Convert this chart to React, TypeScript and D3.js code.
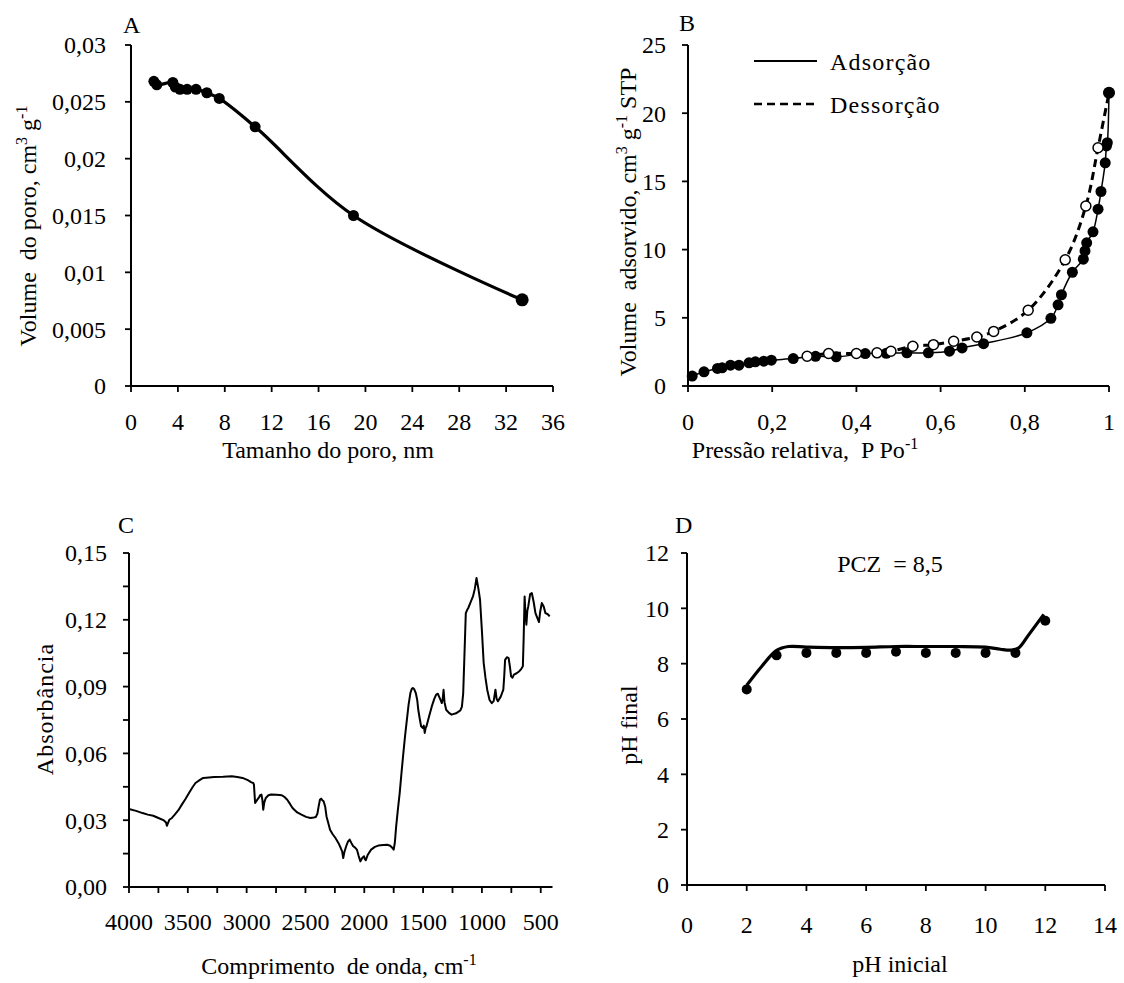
import React, { useEffect } from 'react';
import * as d3 from 'd3';

// ---------- Panel A: pore volume vs pore size ----------
const poreSize = [1.95, 2.2, 3.57, 3.78, 4.18, 4.79, 5.55, 6.47, 7.53, 10.59, 18.98, 33.37];
const poreVolume = [0.0268, 0.0265, 0.0267, 0.0263, 0.0261, 0.0261, 0.0261, 0.0258, 0.0253, 0.0228, 0.015, 0.00758];
const aXTicks = [0, 4, 8, 12, 16, 20, 24, 28, 32, 36];
const aYTicks = [0, 0.005, 0.01, 0.015, 0.02, 0.025, 0.03];
const aYLabels = ['0', '0,005', '0,01', '0,015', '0,02', '0,025', '0,03'];

// ---------- Panel B: N2 isotherm ----------
const adsP = [0.01, 0.038, 0.07, 0.081, 0.101, 0.121, 0.145, 0.16, 0.18, 0.198, 0.25, 0.303, 0.352, 0.421, 0.471, 0.52, 0.571, 0.621, 0.651, 0.702, 0.805, 0.862, 0.879, 0.887, 0.913, 0.939, 0.943, 0.947, 0.962, 0.974, 0.981, 0.991, 0.994, 0.996, 1.0];
const adsV = [0.73, 1.04, 1.29, 1.33, 1.53, 1.53, 1.7, 1.77, 1.82, 1.89, 2.01, 2.18, 2.14, 2.38, 2.4, 2.43, 2.43, 2.55, 2.79, 3.1, 3.9, 4.96, 5.95, 6.69, 8.34, 9.3, 9.9, 10.5, 11.3, 12.96, 14.26, 16.36, 17.6, 17.84, 21.5];
const desP = [0.283, 0.334, 0.4, 0.449, 0.482, 0.534, 0.583, 0.631, 0.686, 0.726, 0.808, 0.896, 0.945, 0.974, 1.0];
const desV = [2.18, 2.38, 2.38, 2.43, 2.55, 2.91, 3.03, 3.28, 3.59, 4.0, 5.55, 9.25, 13.2, 17.47, 21.5];
const bXTicks = [0, 0.2, 0.4, 0.6, 0.8, 1];
const bXLabels = ['0', '0,2', '0,4', '0,6', '0,8', '1'];
const bYTicks = [0, 5, 10, 15, 20, 25];

// ---------- Panel C: FTIR spectrum ----------
const waveNumber = [4000, 3940, 3885, 3840, 3794, 3750, 3703, 3685, 3678, 3668, 3657, 3635, 3611, 3580, 3551, 3520, 3490, 3460, 3435, 3400, 3369, 3320, 3277, 3200, 3126, 3080, 3035, 2990, 2959, 2944, 2938, 2928, 2912, 2898, 2885, 2874, 2866, 2859, 2850, 2837, 2815, 2792, 2745, 2701, 2680, 2655, 2630, 2610, 2570, 2534, 2495, 2458, 2430, 2412, 2398, 2388, 2377, 2367, 2357, 2346, 2332, 2321, 2305, 2291, 2270, 2245, 2220, 2200, 2188, 2179, 2170, 2154, 2138, 2124, 2110, 2094, 2080, 2063, 2048, 2033, 2018, 2002, 1995, 1987, 1970, 1942, 1910, 1881, 1840, 1805, 1780, 1760, 1750, 1740, 1729, 1714, 1699, 1684, 1668, 1653, 1638, 1623, 1608, 1596, 1587, 1575, 1562, 1550, 1541, 1530, 1517, 1502, 1494, 1486, 1478, 1471, 1450, 1426, 1405, 1389, 1375, 1365, 1352, 1341, 1333, 1326, 1318, 1304, 1280, 1258, 1220, 1183, 1170, 1159, 1148, 1137, 1125, 1116, 1095, 1076, 1060, 1046, 1030, 1016, 1000, 985, 970, 955, 935, 916, 900, 885, 875, 864, 840, 818, 810, 803, 788, 773, 762, 752, 740, 728, 705, 682, 665, 652, 645, 637, 630, 622, 614, 606, 590, 576, 560, 545, 530, 515, 505, 491, 475, 460, 440, 424];
const absorbance = [0.035, 0.0342, 0.0332, 0.0325, 0.032, 0.031, 0.0299, 0.029, 0.0275, 0.0288, 0.0302, 0.031, 0.0325, 0.0345, 0.037, 0.0395, 0.0422, 0.0448, 0.0467, 0.048, 0.049, 0.0492, 0.0494, 0.0495, 0.0497, 0.0494, 0.049, 0.048, 0.047, 0.0467, 0.046, 0.0377, 0.039, 0.04, 0.0412, 0.0415, 0.039, 0.0347, 0.038, 0.04, 0.0412, 0.0415, 0.0414, 0.0412, 0.0405, 0.0392, 0.0372, 0.0355, 0.0335, 0.0325, 0.0315, 0.031, 0.0312, 0.0314, 0.033, 0.0362, 0.0392, 0.0397, 0.039, 0.0385, 0.036, 0.0317, 0.0285, 0.0257, 0.0238, 0.022, 0.0198, 0.0175, 0.016, 0.013, 0.0155, 0.0183, 0.0205, 0.0213, 0.0198, 0.0183, 0.0178, 0.0168, 0.014, 0.0115, 0.013, 0.0138, 0.0125, 0.012, 0.0145, 0.0168, 0.018, 0.0186, 0.0189, 0.019, 0.0185, 0.0175, 0.0168, 0.02, 0.0272, 0.035, 0.0422, 0.051, 0.06, 0.068, 0.0751, 0.082, 0.0871, 0.089, 0.0894, 0.0888, 0.0871, 0.084, 0.0796, 0.076, 0.0722, 0.0714, 0.0725, 0.0692, 0.0715, 0.0722, 0.0765, 0.0811, 0.0845, 0.0864, 0.0868, 0.0856, 0.084, 0.0826, 0.0845, 0.0886, 0.083, 0.0796, 0.0782, 0.0774, 0.078, 0.0793, 0.081, 0.0871, 0.105, 0.123, 0.1245, 0.1253, 0.128, 0.1305, 0.134, 0.1388, 0.134, 0.129, 0.115, 0.1006, 0.094, 0.0886, 0.084, 0.0826, 0.0835, 0.0886, 0.0845, 0.0834, 0.0855, 0.0886, 0.095, 0.102, 0.1032, 0.1028, 0.099, 0.0946, 0.094, 0.0954, 0.096, 0.0969, 0.098, 0.0991, 0.112, 0.1305, 0.123, 0.1178, 0.124, 0.126, 0.1315, 0.132, 0.128, 0.123, 0.121, 0.119, 0.1235, 0.1275, 0.126, 0.123, 0.1225, 0.1215];
const cXTicks = [4000, 3500, 3000, 2500, 2000, 1500, 1000, 500];
const cXMinor = [3750, 3250, 2750, 2250, 1750, 1250, 750];
const cYTicks = [0, 0.03, 0.06, 0.09, 0.12, 0.15];
const cYMinor = [0.015, 0.045, 0.075, 0.105, 0.135];
const cYLabels = ['0,00', '0,03', '0,06', '0,09', '0,12', '0,15'];

// ---------- Panel D: point of zero charge ----------
const pHInitial = [2, 3, 4, 5, 6, 7, 8, 9, 10, 11, 12];
const pHFinal = [7.07, 8.3, 8.39, 8.39, 8.39, 8.43, 8.39, 8.39, 8.39, 8.39, 9.55];
const fitX = [2, 2.5, 3, 3.4, 4, 5, 6, 7, 8, 9, 10, 10.5, 10.85, 11.1, 11.45, 11.95];
const fitY = [7.22, 7.9, 8.48, 8.62, 8.6, 8.58, 8.59, 8.62, 8.62, 8.62, 8.6, 8.52, 8.49, 8.56, 9.05, 9.78];
const dXTicks = [0, 2, 4, 6, 8, 10, 12, 14];
const dYTicks = [0, 2, 4, 6, 8, 10, 12];

const FONT = '"Liberation Serif", "Times New Roman", "DejaVu Serif", serif';
const FS = 24;
const TICK = 6;
const TS: React.CSSProperties = { fontFamily: FONT, fontSize: FS };

type Lin = d3.ScaleLinear<number, number>;

function Axes(props: {
  x: Lin; y: Lin; xTicks: number[]; xLabels: string[]; xMinor?: number[];
  yTicks: number[]; yLabels: string[]; yMinor?: number[];
  yLabelGap: number; xLabelY: number;
}) {
  const { x, y, xTicks, xLabels, xMinor = [], yTicks, yLabels, yMinor = [], yLabelGap, xLabelY } = props;
  const [x0, x1] = x.range();
  const [y0, y1] = y.range();
  const ax = Math.min(x0, x1);
  const ay = Math.max(y0, y1);
  return (
    <g>
      <line x1={ax} x2={ax} y1={ay} y2={Math.min(y0, y1)} stroke="#000" strokeWidth={2} />
      <line x1={ax} x2={Math.max(x0, x1)} y1={ay} y2={ay} stroke="#000" strokeWidth={2} />
      {yTicks.concat(yMinor).map((t, i) => (
        <line key={'yt' + i} x1={ax - TICK} x2={ax} y1={y(t)} y2={y(t)} stroke="#000" strokeWidth={1.8} />
      ))}
      {xTicks.concat(xMinor).map((t, i) => (
        <line key={'xt' + i} x1={x(t)} x2={x(t)} y1={ay} y2={ay + TICK} stroke="#000" strokeWidth={1.8} />
      ))}
      {yTicks.map((t, i) => (
        <text key={'yl' + i} x={ax - yLabelGap} y={y(t)} dy="0.35em" textAnchor="end" style={TS}>{yLabels[i]}</text>
      ))}
      {xTicks.map((t, i) => (
        <text key={'xl' + i} x={x(t)} y={xLabelY} textAnchor="middle" style={TS}>{xLabels[i]}</text>
      ))}
    </g>
  );
}

function Sup({ children }: { children: React.ReactNode }) {
  return <tspan style={{ fontSize: 16 }} dy={-9}>{children}</tspan>;
}

export default function App() {
  useEffect(() => { document.body.style.margin = '0'; }, []);

  const xA = d3.scaleLinear().domain([0, 36]).range([131, 553]);
  const yA = d3.scaleLinear().domain([0, 0.03]).range([386, 45]);
  const xB = d3.scaleLinear().domain([0, 1]).range([688, 1109]);
  const yB = d3.scaleLinear().domain([0, 25]).range([386, 45]);
  const xC = d3.scaleLinear().domain([4000, 400]).range([129, 552.5]);
  const yC = d3.scaleLinear().domain([0, 0.15]).range([887, 553]);
  const xD = d3.scaleLinear().domain([0, 14]).range([687, 1105]);
  const yD = d3.scaleLinear().domain([0, 12]).range([885, 553]);

  const aPts: [number, number][] = poreSize.map((v, i) => [xA(v), yA(poreVolume[i])]);
  const adsPts: [number, number][] = adsP.map((v, i) => [xB(v), yB(adsV[i])]);
  const desPts: [number, number][] = desP.map((v, i) => [xB(v), yB(desV[i])]);
  const cPts: [number, number][] = waveNumber.map((v, i) => [xC(v), yC(absorbance[i])]);
  const dPts: [number, number][] = pHInitial.map((v, i) => [xD(v), yD(pHFinal[i])]);
  const fitPts: [number, number][] = fitX.map((v, i) => [xD(v), yD(fitY[i])]);

  const smooth = d3.line().curve(d3.curveCatmullRom.alpha(0.5));
  const straight = d3.line();

  return (
    <svg width={1124} height={983} style={{ position: 'absolute', left: 0, top: 0, background: '#fff', fontFamily: FONT }}>
      <rect width={1124} height={983} fill="#fff" />

      {/* ===== Panel A ===== */}
      <text x={123} y={33} style={TS}>A</text>
      <Axes x={xA} y={yA} xTicks={aXTicks} xLabels={aXTicks.map(String)}
        yTicks={aYTicks} yLabels={aYLabels} yLabelGap={25} xLabelY={430} />
      <path d={smooth(aPts) || ''} fill="none" stroke="#000" strokeWidth={3.2} />
      {aPts.map((p, i) => (
        <circle key={'a' + i} cx={p[0]} cy={p[1]} r={i === aPts.length - 1 ? 6.5 : 5.5} fill="#000" />
      ))}
      <text x={328} y={458} textAnchor="middle" style={TS}>Tamanho do poro, nm</text>
      <text transform="translate(36,226) rotate(-90)" textAnchor="middle" style={{ ...TS, whiteSpace: 'pre' }}>
        Volume  do poro, cm<Sup>3</Sup><tspan dy={9}> g</tspan><Sup>-1</Sup>
      </text>

      {/* ===== Panel B ===== */}
      <text x={679} y={31} style={TS}>B</text>
      <Axes x={xB} y={yB} xTicks={bXTicks} xLabels={bXLabels}
        yTicks={bYTicks} yLabels={bYTicks.map(String)} yLabelGap={22} xLabelY={430} />
      <path d={smooth(desPts) || ''} fill="none" stroke="#000" strokeWidth={3} strokeDasharray="8 5" />
      <path d={smooth(adsPts) || ''} fill="none" stroke="#000" strokeWidth={1.5} />
      {adsPts.map((p, i) => (
        <circle key={'ad' + i} cx={p[0]} cy={p[1]} r={5.5} fill="#000" />
      ))}
      {desPts.slice(0, -1).map((p, i) => (
        <circle key={'de' + i} cx={p[0]} cy={p[1]} r={5} fill="#fff" stroke="#000" strokeWidth={1.5} />
      ))}
      <circle cx={desPts[desPts.length - 1][0]} cy={desPts[desPts.length - 1][1]} r={6} fill="#000" />
      <line x1={754} x2={817} y1={61} y2={61} stroke="#000" strokeWidth={2} />
      <text x={830} y={70} style={{ ...TS, letterSpacing: 1.2 }}>Adsorção</text>
      <line x1={754} x2={817} y1={104} y2={104} stroke="#000" strokeWidth={2.5} strokeDasharray="8 5" />
      <text x={830} y={113} style={{ ...TS, letterSpacing: 1.2 }}>Dessorção</text>
      <text x={805} y={458} textAnchor="middle" style={{ ...TS, whiteSpace: 'pre' }}>
        Pressão relativa,  P Po<Sup>-1</Sup>
      </text>
      <text transform="translate(636,222) rotate(-90)" textAnchor="middle" style={{ ...TS, whiteSpace: 'pre' }}>
        Volume  adsorvido, cm<Sup>3</Sup><tspan dy={9}> g</tspan><Sup>-1</Sup><tspan dy={9}> STP</tspan>
      </text>

      {/* ===== Panel C ===== */}
      <text x={118} y={533} style={TS}>C</text>
      <Axes x={xC} y={yC} xTicks={cXTicks} xLabels={cXTicks.map(String)} xMinor={cXMinor}
        yTicks={cYTicks} yLabels={cYLabels} yMinor={cYMinor} yLabelGap={22} xLabelY={930} />
      <path d={straight(cPts) || ''} fill="none" stroke="#000" strokeWidth={2} strokeLinejoin="round" />
      <text x={339} y={974} textAnchor="middle" style={{ ...TS, whiteSpace: 'pre' }}>
        Comprimento  de onda, cm<Sup>-1</Sup>
      </text>
      <text transform="translate(53,709) rotate(-90)" textAnchor="middle" style={{ ...TS, letterSpacing: 1 }}>
        Absorbância
      </text>

      {/* ===== Panel D ===== */}
      <text x={675} y={533} style={TS}>D</text>
      <Axes x={xD} y={yD} xTicks={dXTicks} xLabels={dXTicks.map(String)}
        yTicks={dYTicks} yLabels={dYTicks.map(String)} yLabelGap={18} xLabelY={933} />
      <path d={smooth(fitPts) || ''} fill="none" stroke="#000" strokeWidth={3.2} />
      {dPts.map((p, i) => (
        <circle key={'d' + i} cx={p[0]} cy={p[1]} r={5} fill="#000" />
      ))}
      <text x={890} y={572} textAnchor="middle" style={{ ...TS, whiteSpace: 'pre' }}>PCZ  = 8,5</text>
      <text x={900} y={972} textAnchor="middle" style={TS}>pH inicial</text>
      <text transform="translate(637,725) rotate(-90)" textAnchor="middle" style={TS}>pH final</text>
    </svg>
  );
}
